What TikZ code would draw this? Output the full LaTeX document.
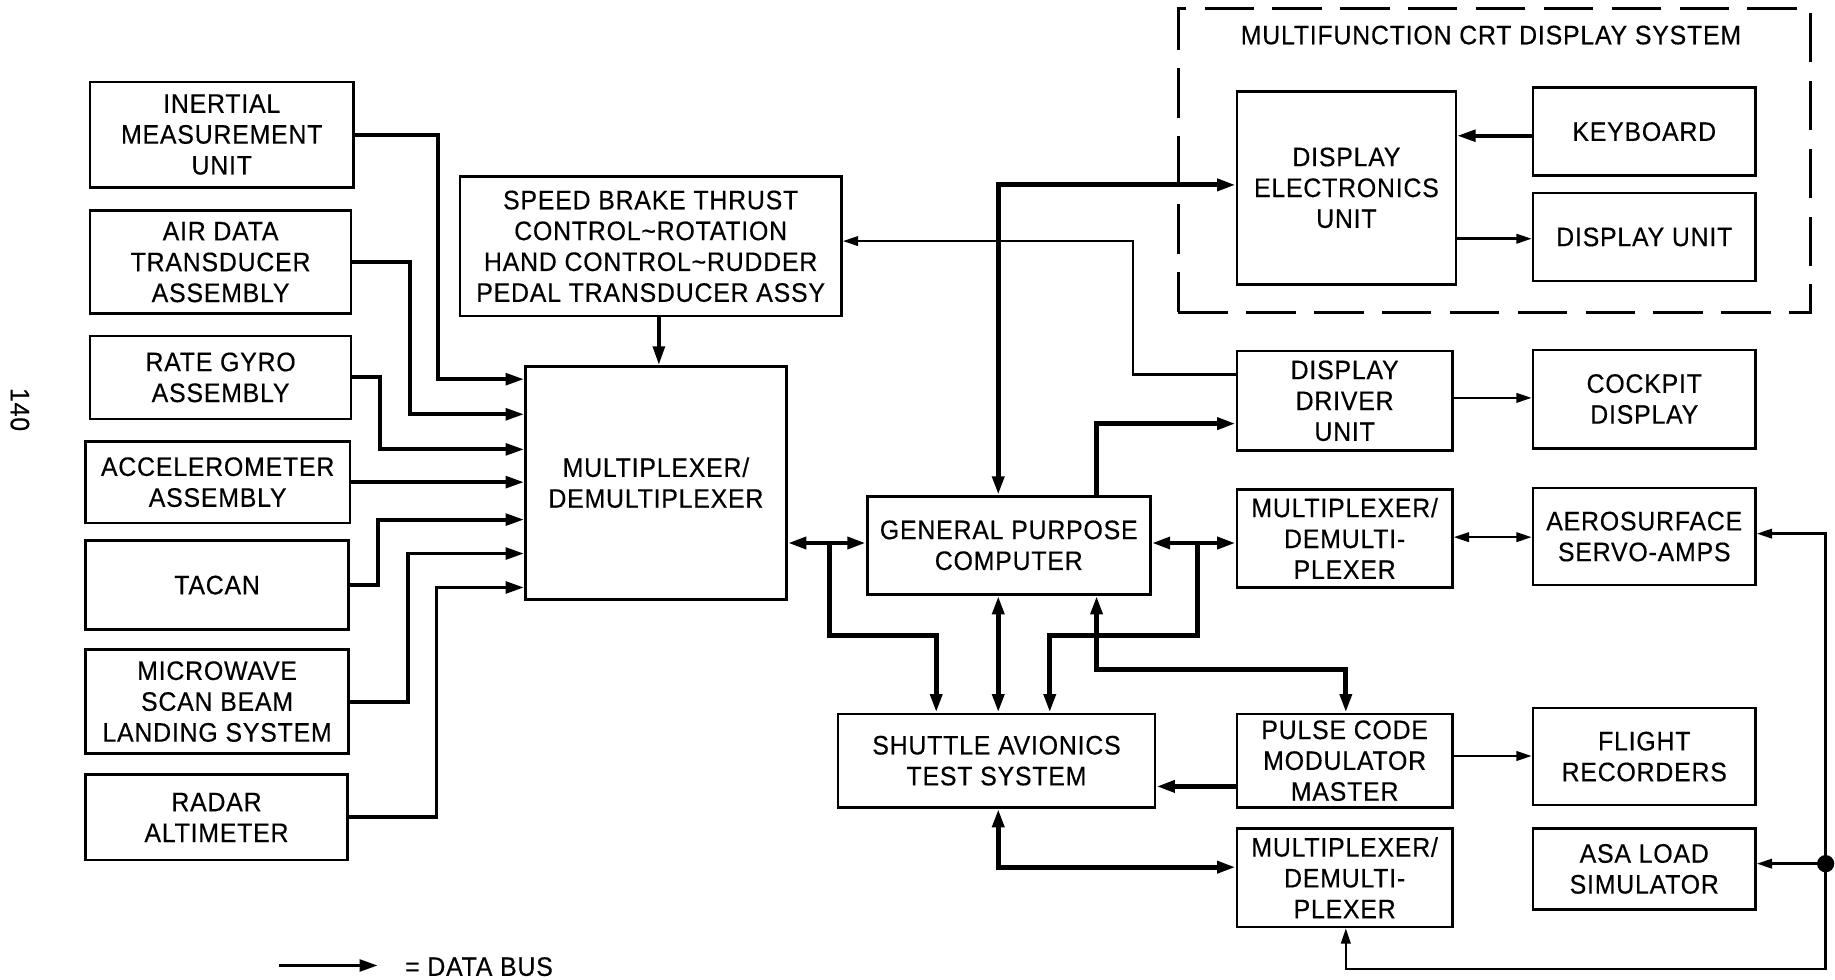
\documentclass[tikz,border=0pt]{standalone}
\usepackage{fontspec}
\setmainfont{Liberation Sans}[FakeStretch=0.93,LetterSpace=3,FakeBold=0.4]
\usetikzlibrary{arrows.meta}
\tikzset{
  txt/.style={font=\fontsize{13}{15}\selectfont},
  box/.style={draw, line width=1.3pt, align=center, inner sep=0pt, txt},
  wh/.style 2 args={minimum width=#1*0.02cm, minimum height=#2*0.02cm},
  bigtip/.tip={Triangle[length=9pt,width=5.6pt]},
  smalltip/.tip={Triangle[length=7.5pt,width=4.6pt]},
  bus/.style={line width=2.4pt},
  med/.style={line width=1.9pt},
  thinl/.style={line width=1.2pt},
  dashbox/.style={draw, line width=1.3pt, dash pattern=on 24pt off 9pt, inner sep=0pt}
}
\begin{document}
\begin{tikzpicture}[x=0.02cm,y=-0.02cm]
\useasboundingbox (0,0) rectangle (1568,837);

% left column
\node[box,wh={225}{90}] (imu) at (189.5,115) {INERTIAL\\MEASUREMENT\\UNIT};
\node[box,wh={223}{88}] (adta) at (188.5,224) {AIR DATA\\TRANSDUCER\\ASSEMBLY};
\node[box,wh={223}{71}] (rga) at (188.5,322.5) {RATE GYRO\\ASSEMBLY};
\node[box,wh={226}{70}] (acc) at (186,412) {ACCELEROMETER\\ASSEMBLY};
\node[box,wh={225}{76}] (tacan) at (185.5,500) {TACAN};
\node[box,wh={225}{89}] (mwsb) at (185.5,599.5) {MICROWAVE\\SCAN BEAM\\LANDING SYSTEM};
\node[box,wh={224}{73}] (radar) at (185,698.5) {RADAR\\ALTIMETER};

% centre
\node[box,wh={223}{199}] (mux) at (560.5,412.5) {MULTIPLEXER/\\DEMULTIPLEXER};
\node[box,wh={326}{119}] (sbt) at (556,210.5) {SPEED BRAKE THRUST\\CONTROL\textasciitilde ROTATION\\HAND CONTROL\textasciitilde RUDDER\\PEDAL TRANSDUCER ASSY};
\node[box,wh={242}{84}] (gpc) at (862,466) {GENERAL PURPOSE\\COMPUTER};
\node[box,wh={271}{80}] (sats) at (851.5,650) {SHUTTLE AVIONICS\\TEST SYSTEM};

% CRT display system
\node[dashbox,minimum width=540*0.02cm,minimum height=260*0.02cm] (crt) at (1277,137) {};
\node[txt] (crttitle) at (1274,30) {MULTIFUNCTION CRT DISPLAY SYSTEM};
\node[box,wh={187}{165}] (deu) at (1150.5,160.5) {DISPLAY\\ELECTRONICS\\UNIT};
\node[box,wh={190}{75}] (kbd) at (1405,112.5) {KEYBOARD};
\node[box,wh={190}{75}] (du) at (1405,202.5) {DISPLAY UNIT};

% right side
\node[box,wh={184}{85}] (ddu) at (1149,342.5) {DISPLAY\\DRIVER\\UNIT};
\node[box,wh={190}{84}] (cockpit) at (1405,341) {COCKPIT\\DISPLAY};
\node[box,wh={184}{84}] (mux2) at (1149,460) {MULTIPLEXER/\\DEMULTI-\\PLEXER};
\node[box,wh={190}{83}] (aero) at (1405,458.5) {AEROSURFACE\\SERVO-AMPS};
\node[box,wh={184}{80}] (pcm) at (1149,650) {PULSE CODE\\MODULATOR\\MASTER};
\node[box,wh={190}{83}] (flight) at (1405,646.5) {FLIGHT\\RECORDERS};
\node[box,wh={184}{84}] (mux3) at (1149,750) {MULTIPLEXER/\\DEMULTI-\\PLEXER};
\node[box,wh={190}{69}] (asa) at (1405,742.5) {ASA LOAD\\SIMULATOR};

% page number and legend
\node[txt,rotate=-90] (pgnum) at (17,350) {140};
\coordinate (lgA) at (238,825);
\coordinate (lgB) at (323,825);
\draw[med,-bigtip] (lgA) -- (lgB);
\node[txt,anchor=west] (lgtext) at (340,826) {= DATA BUS};

% inputs to multiplexer
\draw[med,-bigtip] (imu.east) -| (374,324) -- (mux.west |- 0,324);
\draw[med,-bigtip] (adta.east) -| (350,354) -- (mux.west |- 0,354);
\draw[med,-bigtip] (rga.east) -| (325,384) -- (mux.west |- 0,384);
\draw[med,-bigtip] (acc.east) -- (mux.west |- acc.east);
\draw[med,-bigtip] (tacan.east) -| (323,444) -- (mux.west |- 0,444);
\draw[med,-bigtip] (mwsb.east) -| (349,473) -- (mux.west |- 0,473);
\draw[med,-bigtip] (radar.east) -| (373,502) -- (mux.west |- 0,502);
\draw[med,-bigtip] (sbt.south -| 563,0) -- (mux.north -| 563,0);

% thin line display driver -> speed brake
\draw[thinl,-smalltip] (ddu.west |- 0,320) -| (968,206) -- (sbt.east |- 0,206);

% GPC buses
\coordinate (j1) at (709,464);
\coordinate (j2) at (1023,464);
\draw[bus,bigtip-bigtip] (mux.east |- 0,464) -- (gpc.west |- 0,464);
\draw[bus,-bigtip] (j1) |- (800,543) -- (sats.north -| 800,0);
\draw[bus,bigtip-bigtip] (gpc.south -| 853,0) -- (sats.north -| 853,0);
\draw[bus,bigtip-bigtip] (gpc.east |- 0,464) -- (mux2.west |- 0,464);
\draw[bus,-bigtip] (j2) |- (897,543) -- (sats.north -| 897,0);
\draw[bus,bigtip-bigtip] (gpc.south -| 937,0) |- (1150,572) -- (pcm.north -| 1150,0);
\draw[bus,bigtip-bigtip] (gpc.north -| 853,0) |- (deu.west |- 0,158);
\draw[bus,-bigtip] (gpc.north -| 937,0) |- (ddu.west |- 0,362);
\draw[bus,-bigtip] (pcm.west |- 0,672) -- (sats.east |- 0,672);
\draw[bus,bigtip-bigtip] (sats.south -| 853,0) |- (mux3.west |- 0,741);

% CRT internal
\draw[med,-bigtip] (kbd.west |- 0,116) -- (deu.east |- 0,116);
\draw[thinl,-smalltip] (deu.east |- 0,204) -- (du.west |- 0,204);

% right side thin links
\draw[thinl,-smalltip] (ddu.east |- 0,340) -- (cockpit.west |- 0,340);
\draw[thinl,smalltip-smalltip] (mux2.east |- 0,459) -- (aero.west |- 0,459);
\draw[thinl,-smalltip] (pcm.east |- 0,646) -- (flight.west |- 0,646);

% right bus loop
\coordinate (dot) at (1560,738);
\draw[thinl,smalltip-smalltip] (aero.east |- 0,456) -| (1560,828) -| (mux3.south -| 1150,0);
\draw[thinl,-smalltip] (dot) -- (asa.east |- dot);
\fill (dot) circle (4.2pt);
\end{tikzpicture}
\end{document}
